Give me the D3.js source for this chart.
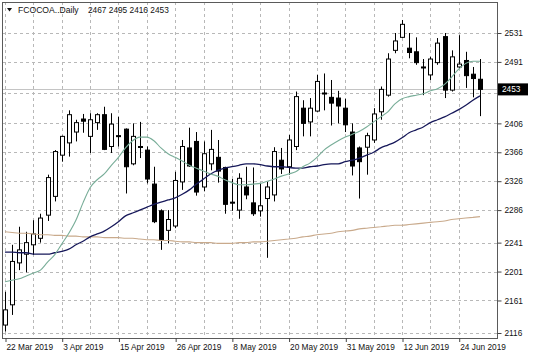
<!DOCTYPE html>
<html><head><meta charset="utf-8">
<script src="https://cdn.jsdelivr.net/npm/d3@7/dist/d3.min.js"></script>
<style>
body{margin:0;background:#fff}
svg{display:block}
text{font-family:"Liberation Sans",Arial,sans-serif}
</style>
</head><body>
<svg id="chart" width="536" height="358"></svg>
<script>
const dates = ["2019-03-22","2019-03-25","2019-03-26","2019-03-27","2019-03-28","2019-03-29",
"2019-04-01","2019-04-02","2019-04-03","2019-04-04","2019-04-05",
"2019-04-08","2019-04-09","2019-04-10","2019-04-11","2019-04-12",
"2019-04-15","2019-04-16","2019-04-17","2019-04-18",
"2019-04-22","2019-04-23","2019-04-24","2019-04-25","2019-04-26",
"2019-04-29","2019-04-30",
"2019-05-01","2019-05-02","2019-05-03",
"2019-05-06","2019-05-07","2019-05-08","2019-05-09","2019-05-10",
"2019-05-13","2019-05-14","2019-05-15","2019-05-16","2019-05-17",
"2019-05-20","2019-05-21","2019-05-22","2019-05-23","2019-05-24",
"2019-05-28","2019-05-29","2019-05-30","2019-05-31",
"2019-06-03","2019-06-04","2019-06-05","2019-06-06","2019-06-07",
"2019-06-10","2019-06-11","2019-06-12","2019-06-13","2019-06-14",
"2019-06-17","2019-06-18","2019-06-19","2019-06-20","2019-06-21",
"2019-06-24","2019-06-25","2019-06-26","2019-06-27"];

const open  = [2127,2155,2213,2225,2238,2247,2279,2305,2362,2379,2394,2412,2388,2407,2418,2374,2389,2398,2350,2374,2369,2322,2285,2258,2264,2325,2372,2381,2318,2350,2359,2345,2297,2286,2318,2296,2285,2302,2307,2355,2346,2374,2427,2408,2423,2448,2442,2441,2427,2394,2372,2373,2383,2422,2445,2507,2525,2510,2505,2484,2473,2490,2526,2452,2484,2493,2474,2467];
const high  = [2173,2238,2263,2256,2272,2281,2335,2369,2389,2424,2411,2419,2420,2420,2429,2420,2415,2399,2406,2408,2374,2346,2287,2286,2339,2383,2400,2394,2381,2397,2383,2346,2329,2337,2346,2345,2323,2325,2373,2372,2390,2450,2438,2441,2473,2475,2466,2451,2440,2406,2374,2393,2427,2457,2503,2531,2549,2531,2525,2495,2498,2524,2531,2507,2528,2505,2484,2495];
const low   = [2118,2141,2203,2200,2224,2241,2271,2298,2353,2360,2381,2393,2365,2397,2369,2365,2374,2309,2348,2358,2323,2268,2231,2240,2261,2314,2346,2306,2312,2341,2324,2281,2285,2274,2301,2278,2277,2220,2298,2336,2335,2369,2388,2388,2422,2424,2403,2406,2394,2334,2302,2335,2379,2411,2443,2503,2524,2496,2487,2445,2466,2487,2441,2450,2482,2455,2442,2416];
const close = [2148,2215,2231,2241,2253,2275,2331,2367,2388,2418,2407,2409,2411,2418,2370,2405,2388,2346,2388,2373,2329,2270,2245,2273,2327,2374,2347,2311,2364,2370,2340,2294,2296,2330,2307,2281,2292,2318,2367,2343,2383,2443,2406,2427,2464,2447,2434,2430,2404,2347,2353,2389,2419,2453,2495,2520,2543,2504,2490,2483,2495,2517,2452,2498,2488,2472,2468,2453];

const maFast = [2187,2189,2191,2195,2199,2203,2214,2224,2239,2254,2272,2296,2317,2328,2336,2348,2359,2372,2382,2387,2387,2382,2372,2364,2359,2354,2348,2344,2340,2336,2333,2328,2324,2321,2321,2322,2323,2326,2329,2333,2336,2339,2346,2351,2359,2369,2376,2382,2387,2391,2395,2401,2408,2415,2422,2433,2440,2443,2445,2447,2451,2454,2460,2470,2481,2489,2492,2492];
const maMid  = [2228,2228,2227,2227,2225,2225,2225,2227,2229,2232,2238,2243,2249,2253,2257,2263,2270,2278,2282,2286,2290,2294,2297,2300,2303,2308,2314,2322,2329,2336,2341,2344,2346,2348,2350,2350,2349,2347,2346,2346,2345,2344,2344,2346,2347,2349,2350,2350,2353,2355,2358,2362,2366,2372,2376,2380,2386,2393,2397,2401,2407,2411,2415,2420,2425,2431,2438,2444];
const maSlow = [2256,2255,2254,2254,2253,2252,2252,2251,2251,2250,2250,2249,2249,2249,2248,2248,2248,2247,2247,2246,2245,2245,2244,2244,2243,2242,2242,2241,2241,2241,2240,2240,2240,2241,2241,2242,2242,2243,2244,2245,2246,2247,2249,2250,2252,2253,2254,2256,2257,2258,2260,2261,2262,2263,2264,2265,2265,2266,2267,2268,2269,2270,2271,2273,2274,2275,2276,2277];

const yTicks      = [2531,2491,2448,2406,2366,2326,2286,2241,2201,2161,2116];
const yTickLabels = ["2531","2491","","2406","2366","2326","2286","2241","2201","2161","2116"];
const xTickDates  = ["2019-03-22","2019-04-03","2019-04-15","2019-04-26","2019-05-08","2019-05-20","2019-05-31","2019-06-12","2019-06-24"];
const xTickLabels = ["22 Mar 2019","3 Apr 2019","15 Apr 2019","26 Apr 2019","8 May 2019","20 May 2019","31 May 2019","12 Jun 2019","24 Jun 2019"];
const symbolName = "FCOCOA..Daily";
const lastPrice = 2453;

const svg = d3.select("#chart");
const L = 2, T = 2, R = 498, B = 338;

const x = d3.scalePoint().domain(dates).range([5, 480]);
const y = d3.scaleLinear().domain([2116, 2531]).range([333, 33]);
const px = v => Math.round(v) + 0.5;

svg.append("rect").attr("width",536).attr("height",358).attr("fill","#fff");

// grid
const grid = svg.append("g").attr("stroke","#b8b8b8").attr("stroke-dasharray","3,3").attr("stroke-width",1);
grid.selectAll("line.h").data(yTicks).join("line")
  .attr("x1",L).attr("x2",R).attr("y1",d=>px(y(d))).attr("y2",d=>px(y(d)));
grid.selectAll("line.v").data(dates.filter((d,i)=>i%4===0)).join("line")
  .attr("y1",T).attr("y2",B).attr("x1",d=>px(x(d))).attr("x2",d=>px(x(d)));

// last price line
svg.append("line").attr("x1",L).attr("x2",R)
  .attr("y1",px(y(lastPrice))).attr("y2",px(y(lastPrice)))
  .attr("stroke","#c4c4c4").attr("stroke-width",1);

// candles
const idx = d3.range(dates.length);
const cg = svg.append("g");
cg.selectAll("line.w").data(idx).join("line")
  .attr("x1",i=>px(x(dates[i]))).attr("x2",i=>px(x(dates[i])))
  .attr("y1",i=>y(high[i])).attr("y2",i=>y(low[i]))
  .attr("stroke","#000").attr("stroke-width",1);
cg.selectAll("rect").data(idx).join("rect")
  .attr("x",i=>Math.round(x(dates[i]))-1.5)
  .attr("width",4)
  .attr("y",i=>y(Math.max(open[i],close[i])))
  .attr("height",i=>Math.max(1, Math.abs(y(open[i])-y(close[i]))))
  .attr("fill",i=>close[i]>=open[i] ? "#fff" : "#000")
  .attr("stroke","#000").attr("stroke-width",1);

// moving averages
const lineGen = arr => d3.line().x((d,i)=>x(dates[i])).y(d=>y(d)).curve(d3.curveMonotoneX)(arr);
svg.append("path").attr("d",lineGen(maSlow)).attr("fill","none").attr("stroke","#c9aa8c").attr("stroke-width",1.1);
svg.append("path").attr("d",lineGen(maMid)).attr("fill","none").attr("stroke","#16185a").attr("stroke-width",1.3);
svg.append("path").attr("d",lineGen(maFast)).attr("fill","none").attr("stroke","#78ad98").attr("stroke-width",1.1);

// frame
svg.append("rect").attr("x",L+0.5).attr("y",T+0.5).attr("width",R-L-1).attr("height",B-T)
  .attr("fill","none").attr("stroke","#5a5a5a").attr("stroke-width",1);

// right axis
const yAxis = d3.axisRight(y).tickValues(yTicks).tickSize(4).tickPadding(3)
  .tickFormat((d,i)=>yTickLabels[i]);
const ya = svg.append("g").attr("transform",`translate(${R-0.5},0)`).call(yAxis);
ya.select(".domain").remove();
ya.selectAll("line").attr("stroke","#444");
ya.selectAll("text").attr("font-size",8.3).attr("fill","#111");

// bottom axis
const xAxis = d3.axisBottom(x).tickValues(xTickDates).tickSize(4).tickPadding(2)
  .tickFormat((d,i)=>xTickLabels[i]);
const xa = svg.append("g").attr("transform",`translate(0,${B})`).call(xAxis);
xa.select(".domain").remove();
xa.selectAll("line").attr("stroke","#444").attr("transform","translate(0.5,0)");
xa.selectAll("text").attr("font-size",8.3).attr("fill","#111").attr("text-anchor","start").attr("dx",1);

// last price label
const ly = y(lastPrice);
svg.append("rect").attr("x",R).attr("y",ly-6).attr("width",30).attr("height",12).attr("fill","#000");
svg.append("text").attr("x",R+4).attr("y",ly).attr("dy","0.35em").attr("font-size",8.3).attr("fill","#fff").text(String(lastPrice));

// title
svg.append("path").attr("d","M7,8 L12,8 L9.5,11.5 Z").attr("fill","#111");
svg.append("text").attr("x",18).attr("y",13).attr("font-size",8.6).attr("fill","#111").text(symbolName);
svg.append("text").attr("x",88).attr("y",13).attr("font-size",8.3).attr("fill","#111")
  .text([open[open.length-1],high[high.length-1],low[low.length-1],close[close.length-1]].join(" "));
</script>
</body></html>
